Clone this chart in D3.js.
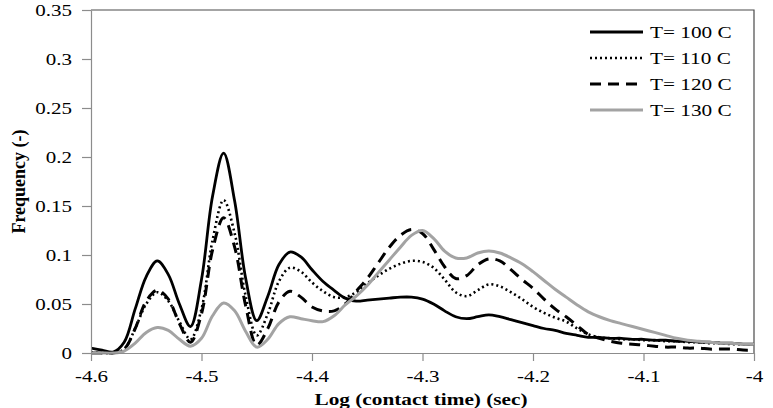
<!DOCTYPE html>
<html>
<head>
<meta charset="utf-8">
<script src="https://cdn.jsdelivr.net/npm/d3@7"></script>
<style>
  body { margin: 0; background: #fff; }
  svg { display: block; }
  text { font-family: "Liberation Serif", "Times New Roman", serif; fill: #000; }
</style>
</head>
<body>
<svg width="773" height="408"></svg>
<script>
// log(contact time) grid, step 0.01 from -4.6 to -4.0
const logTime = d3.range(61).map(i => +(-4.6 + i * 0.01).toFixed(2));

const t100 = [0.005, 0.003, 0.001, 0.011, 0.045, 0.078, 0.094, 0.080, 0.050, 0.027,
  0.075, 0.160, 0.204, 0.155, 0.076, 0.033, 0.058, 0.090, 0.103, 0.098,
  0.085, 0.073, 0.064, 0.056, 0.053, 0.054, 0.055, 0.056, 0.057, 0.057,
  0.055, 0.050, 0.043, 0.037, 0.035, 0.037, 0.039, 0.037, 0.034, 0.031,
  0.028, 0.025, 0.023, 0.020, 0.018, 0.016, 0.016, 0.015, 0.015, 0.014,
  0.014, 0.013, 0.013, 0.012, 0.012, 0.011, 0.011, 0.010, 0.010, 0.009, 0.009];

const t110 = [0.001, 0.000, 0.000, 0.004, 0.025, 0.050, 0.062, 0.053, 0.032, 0.014,
  0.045, 0.115, 0.156, 0.122, 0.058, 0.018, 0.040, 0.073, 0.087, 0.083,
  0.072, 0.063, 0.057, 0.057, 0.062, 0.071, 0.079, 0.086, 0.091, 0.094,
  0.093, 0.087, 0.075, 0.062, 0.058, 0.064, 0.070, 0.068, 0.062, 0.055,
  0.047, 0.041, 0.036, 0.032, 0.025, 0.019, 0.016, 0.015, 0.014, 0.014,
  0.013, 0.013, 0.012, 0.012, 0.011, 0.011, 0.010, 0.010, 0.009, 0.009, 0.009];

const t120 = [0.000, 0.000, 0.000, 0.004, 0.025, 0.053, 0.064, 0.055, 0.030, 0.011,
  0.040, 0.105, 0.138, 0.108, 0.048, 0.008, 0.025, 0.052, 0.063, 0.057,
  0.047, 0.043, 0.043, 0.050, 0.063, 0.076, 0.092, 0.108, 0.120, 0.126,
  0.122, 0.106, 0.088, 0.076, 0.079, 0.090, 0.096, 0.094, 0.085, 0.075,
  0.066, 0.055, 0.045, 0.037, 0.028, 0.019, 0.015, 0.012, 0.010, 0.009,
  0.008, 0.007, 0.006, 0.006, 0.005, 0.005, 0.004, 0.004, 0.004, 0.003, 0.003];

const t130 = [0.000, 0.000, 0.000, 0.002, 0.010, 0.021, 0.026, 0.023, 0.014, 0.007,
  0.015, 0.038, 0.051, 0.043, 0.022, 0.006, 0.014, 0.030, 0.037, 0.035,
  0.033, 0.032, 0.038, 0.049, 0.058, 0.069, 0.082, 0.095, 0.108, 0.120,
  0.125, 0.117, 0.104, 0.097, 0.097, 0.102, 0.104, 0.102, 0.097, 0.091,
  0.083, 0.074, 0.065, 0.057, 0.049, 0.042, 0.037, 0.033, 0.030, 0.027,
  0.024, 0.021, 0.018, 0.015, 0.013, 0.012, 0.011, 0.010, 0.010, 0.009, 0.009];

const seriesNames = ['T= 100 C', 'T= 110 C', 'T= 120 C', 'T= 130 C'];
const seriesValues = [t100, t110, t120, t130];

const xTicks = [-4.6, -4.5, -4.4, -4.3, -4.2, -4.1, -4];
const yTicks = [0, 0.05, 0.1, 0.15, 0.2, 0.25, 0.3, 0.35];

const styles = [
    {stroke: '#000', width: 2.8, dash: null, cap: 'butt'},
    {stroke: '#000', width: 2.6, dash: '2,3', cap: 'butt'},
    {stroke: '#000', width: 3, dash: '11,7', cap: 'butt'},
    {stroke: '#a3a3a3', width: 3, dash: null, cap: 'butt'}
];

const svg = d3.select('svg');
const margin = {left: 91, right: 19, top: 10, bottom: 55};
const width = +svg.attr('width');
const height = +svg.attr('height');
const x0 = margin.left, x1 = width - margin.right;
const y0 = height - margin.bottom, y1 = margin.top;

const x = d3.scaleLinear().domain([-4.6, -4]).range([x0, x1]);
const y = d3.scaleLinear().domain([0, 0.35]).range([y0, y1]);

svg.append('clipPath').attr('id', 'plot')
    .append('rect')
    .attr('x', x0).attr('y', y1 - 2)
    .attr('width', x1 - x0).attr('height', y0 - y1 + 4);

// top and right frame
svg.append('path')
    .attr('d', `M${x0},${y1}H${x1}V${y0}`)
    .attr('fill', 'none')
    .attr('stroke', '#4a4a4a')
    .attr('stroke-width', 1.2);

const line = d3.line()
    .x((d, i) => x(logTime[i]))
    .y(d => y(d))
    .curve(d3.curveCatmullRom.alpha(0.5));

const lines = svg.append('g').attr('clip-path', 'url(#plot)');
seriesValues.forEach((vals, k) => {
    lines.append('path')
        .datum(vals)
        .attr('d', line)
        .attr('fill', 'none')
        .attr('stroke', styles[k].stroke)
        .attr('stroke-width', styles[k].width)
        .attr('stroke-dasharray', styles[k].dash)
        .attr('stroke-linejoin', 'round');
});

// axes
const sx = 1.2;
const yAxis = svg.append('g')
    .attr('transform', `translate(${x0},0)`)
    .call(d3.axisLeft(y).tickValues(yTicks).tickFormat(d => String(d)).tickSize(9).tickSizeOuter(0));
const xAxis = svg.append('g')
    .attr('transform', `translate(0,${y0})`)
    .call(d3.axisBottom(x).tickValues(xTicks).tickFormat(d => String(d)).tickSize(8).tickSizeOuter(0));

[yAxis, xAxis].forEach(a => {
    a.select('.domain').attr('stroke', '#8c8c8c').attr('stroke-width', 1.2);
    a.selectAll('.tick line').attr('stroke', '#8c8c8c').attr('stroke-width', 1.2);
    a.selectAll('.tick text')
        .style('font-family', '"Liberation Serif", "Times New Roman", serif')
        .style('font-size', '17.5px')
        .attr('fill', '#111');
});
yAxis.selectAll('.tick text')
    .attr('x', -19 / sx)
    .attr('dy', '0.33em')
    .attr('transform', `scale(${sx},1)`);
xAxis.selectAll('.tick text')
    .attr('y', 29)
    .attr('dy', null)
    .attr('transform', `scale(${sx},1)`);

// axis titles
svg.append('text')
    .attr('transform', `translate(421,405) scale(1.25,1)`)
    .attr('text-anchor', 'middle')
    .style('font-weight', 'bold')
    .style('font-size', '17px')
    .text('Log (contact time) (sec)');

svg.append('text')
    .attr('transform', `translate(25,${(y0 + y1) / 2}) rotate(-90)`)
    .attr('text-anchor', 'middle')
    .style('font-weight', 'bold')
    .style('font-size', '18px')
    .text('Frequency (-)');

// legend
const legend = svg.append('g');
seriesNames.forEach((name, k) => {
    const ly = 32 + k * 26;
    legend.append('line')
        .attr('x1', 590).attr('x2', 643)
        .attr('y1', ly).attr('y2', ly)
        .attr('stroke', styles[k].stroke)
        .attr('stroke-width', styles[k].width)
        .attr('stroke-dasharray', styles[k].dash);
    legend.append('text')
        .attr('transform', `translate(650,${ly + 5.5}) scale(1.25,1)`)
        .style('font-size', '17px')
        .text(name);
});
</script>
</body>
</html>
